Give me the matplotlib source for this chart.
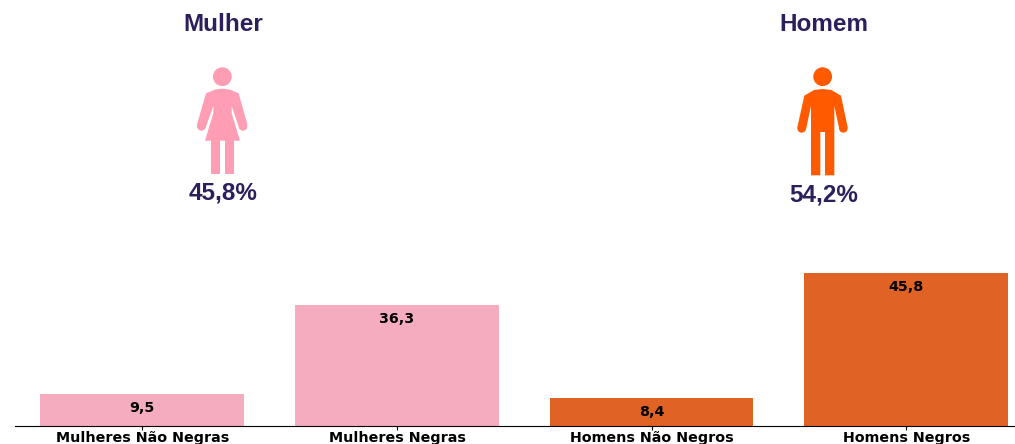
import matplotlib.pyplot as plt
from matplotlib.patches import Circle, Polygon, Rectangle

# Bar data
categories = ['Mulheres Não Negras', 'Mulheres Negras', 'Homens Não Negros', 'Homens Negros']
values = [9.5, 36.3, 8.4, 45.8]
value_labels = ['9,5', '36,3', '8,4', '45,8']
bar_colors = ['#f4acbe', '#f4acbe', '#e06224', '#e06224']

# Header above the bars
group_names = ['Mulher', 'Homem']
group_shares = ['45,8%', '54,2%']

DARK = '#2d1e5c'
PINK = '#ff9db5'
ORANGE = '#ff5a00'

fig = plt.figure(figsize=(10.15, 4.44), dpi=100, facecolor='white')

# Bars
ax = fig.add_axes([15 / 1015, 18 / 444, 1000 / 1015, 426 / 444])
ax.bar(range(len(values)), values, width=0.8, color=bar_colors)
ax.set_xlim(-0.5, 3.427)
ax.set_ylim(0, 127.5)
ax.set_xticks(range(len(categories)))
ax.set_xticklabels(categories, fontweight='bold', fontsize=10.3)
ax.tick_params(axis='x', length=3, pad=0.8)
ax.set_yticks([])
for side in ['top', 'right', 'left']:
    ax.spines[side].set_visible(False)

for i, v in enumerate(values):
    ax.annotate(value_labels[i], (i, v), xytext=(0, -10), textcoords='offset points',
                ha='center', va='center', fontweight='bold', fontsize=10.3, color='black')

# Overlay in pixel coordinates for the pictograms and their text
ov = fig.add_axes([0, 0, 1, 1])
ov.set_xlim(0, 1015)
ov.set_ylim(444, 0)
ov.axis('off')
ov.patch.set_alpha(0)


def p(x, y, x0):
    # points were measured on the 3x crops of the reference
    return x0 + x / 3, y / 3


def shape(x0, color, pts):
    ov.add_patch(Polygon([p(x, y, x0) for x, y in pts], color=color, lw=0))


def woman(x0, color):
    ov.add_patch(Circle(p(217, 230, x0), 9.4, color=color, lw=0))
    shape(x0, color, [(168, 280), (195, 269), (217, 266), (240, 269), (266, 280), (292, 373), (268, 385),
                      (245, 318), (245, 340), (270, 422), (165, 422), (190, 340), (190, 318), (166, 385),
                      (141, 373)])
    ov.add_patch(Circle(p(154, 379, x0), 13 / 3, color=color, lw=0))
    ov.add_patch(Circle(p(279, 379, x0), 13 / 3, color=color, lw=0))
    for left in [182, 224]:
        ov.add_patch(Rectangle(p(left, 420, x0), 28 / 3, 102 / 3, color=color, lw=0))


def man(x0, color):
    ov.add_patch(Circle(p(218, 230, x0), 9.4, color=color, lw=0))
    shape(x0, color, [(163, 287), (192, 270), (218, 267), (244, 270), (273, 287), (293, 382), (268, 388),
                      (253, 318), (253, 526), (225, 526), (225, 396), (211, 396), (211, 526), (183, 526),
                      (183, 318), (168, 388), (142, 382)])
    ov.add_patch(Circle(p(155, 385, x0), 13 / 3, color=color, lw=0))
    ov.add_patch(Circle(p(280, 385, x0), 13 / 3, color=color, lw=0))


woman(150, PINK)
man(750, ORANGE)

header_font = {'family': 'Liberation Sans', 'fontweight': 'bold', 'fontsize': 17.5, 'color': DARK,
               'ha': 'center', 'va': 'center'}
ov.text(223, 24.5, group_names[0], **header_font)
ov.text(823.5, 24.5, group_names[1], **header_font)
ov.text(223, 192.5, group_shares[0], **header_font)
ov.text(823.5, 194.5, group_shares[1], **header_font)

fig.savefig('out.png', dpi=100, facecolor='white')
